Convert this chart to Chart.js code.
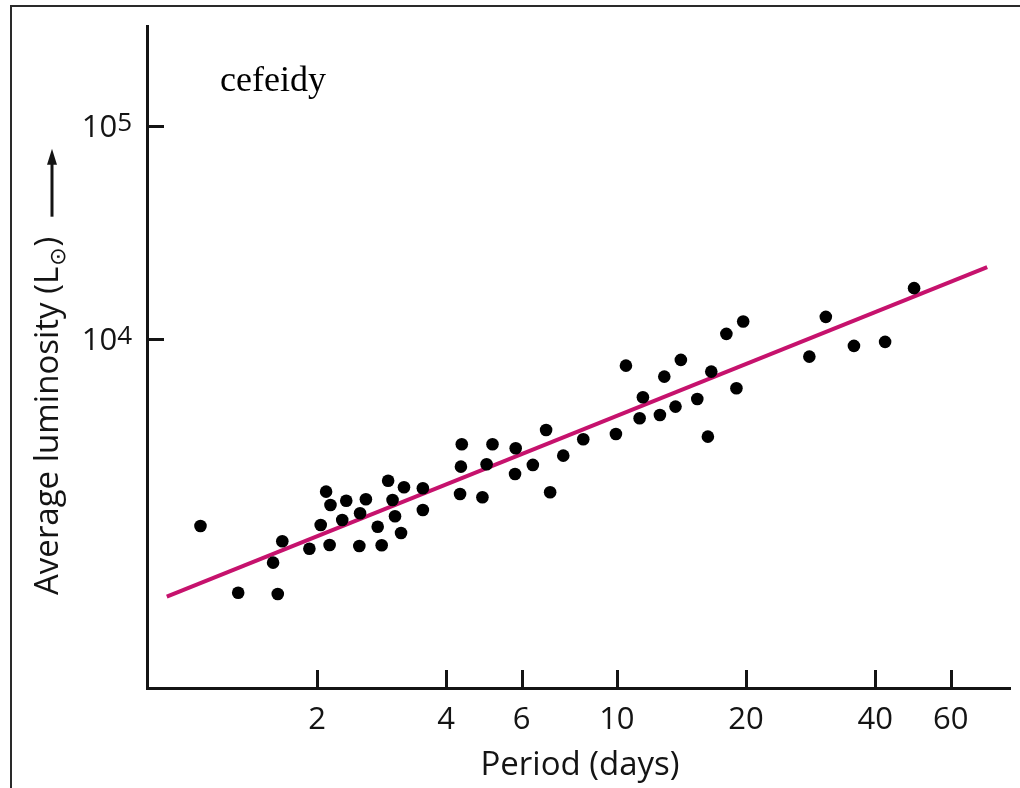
<!DOCTYPE html>
<html>
<head>
<meta charset="utf-8">
<title>cefeidy</title>
<script src="https://cdn.jsdelivr.net/npm/chart.js@4.4.1/dist/chart.umd.min.js"></script>
<style>
    html, body { margin: 0; padding: 0; background: #fff; }
    canvas { display: block; }
</style>
</head>
<body>
<canvas id="cefeidyChart" width="1020" height="788"></canvas>
<script>
// Données : période (jours) et luminosité moyenne (L☉)
const periods = [
    1.07, 1.31, 1.62, 1.58, 1.66, 1.92, 2.04, 2.14, 2.10, 2.15,
    2.29, 2.34, 2.52, 2.51, 2.60, 2.77, 2.83, 2.93, 3.00, 3.04,
    3.14, 3.19, 3.53, 3.53, 4.35, 4.33, 4.31, 5.13, 4.97, 4.86,
    5.81, 5.79, 6.37, 6.84, 6.99, 7.50, 8.35, 9.95, 10.5, 11.3,
    11.5, 12.6, 12.9, 13.7, 14.1, 15.4, 16.3, 16.6, 18.0, 19.0,
    19.7, 28.1, 30.7, 35.7, 42.2, 49.3
];
const luminosities = [
    1325, 644, 635, 891, 1123, 1036, 1339, 1079, 1919, 1662,
    1413, 1741, 1520, 1067, 1768, 1314, 1075, 2161, 1754, 1471,
    1228, 2013, 1991, 1575, 3203, 2515, 1872, 3203, 2580, 1806,
    3068, 2323, 2562, 3739, 1907, 2832, 3381, 3581, 7490, 4243,
    5323, 4397, 6653, 4811, 7969, 5226, 3478, 7022, 10560, 5869,
    12060, 8259, 12690, 9271, 9681, 17300
];

// Droite période-luminosité (extrémités)
const fitPeriods = [0.893, 73.0];
const fitLuminosities = [617, 21700];

// Graduations
const periodTicks = [2, 4, 6, 10, 20, 40, 60];
const luminosityTicks = [1e4, 1e5];
const luminosityTickBase = '10';
const luminosityTickExponents = ['4', '5'];

const chartTitle = 'cefeidy';
const xTitle = 'Period (days)';
const yTitle = 'Average luminosity (L';
const sunSymbol = '\u2299';

const ink = '#141414';
const sansFont = '"Open Sans", "Noto Sans", sans-serif';

// Cadre, graduations intérieures, textes
const decorPlugin = {
    id: 'decor',
    afterDraw(chart) {
        const ctx = chart.ctx;
        const x = chart.scales.x;
        const y = chart.scales.y;
        const area = chart.chartArea;
        ctx.save();

        // cadre de l'image (haut et gauche)
        ctx.strokeStyle = '#2a2a2a';
        ctx.lineWidth = 2;
        ctx.beginPath();
        ctx.moveTo(1020, 6);
        ctx.lineTo(11, 6);
        ctx.lineTo(11, 788);
        ctx.stroke();

        // petites graduations vers l'intérieur
        ctx.strokeStyle = ink;
        ctx.lineWidth = 3;
        periodTicks.forEach(v => {
            const px = Math.round(x.getPixelForValue(v)) + 0.5;
            ctx.beginPath();
            ctx.moveTo(px, area.bottom);
            ctx.lineTo(px, area.bottom - 18);
            ctx.stroke();
        });
        luminosityTicks.forEach((v, i) => {
            const py = Math.round(y.getPixelForValue(v)) + 0.5;
            ctx.beginPath();
            ctx.moveTo(area.left, py);
            ctx.lineTo(area.left + 17, py);
            ctx.stroke();

            // étiquette 10^n
            ctx.fillStyle = ink;
            ctx.textBaseline = 'alphabetic';
            ctx.textAlign = 'right';
            ctx.font = '26px ' + sansFont;
            const expo = luminosityTickExponents[i];
            const ew = ctx.measureText(expo).width;
            ctx.fillText(expo, area.left - 15, py + 4);
            ctx.font = '31px ' + sansFont;
            ctx.fillText(luminosityTickBase, area.left - 15 - ew, py + 10);
        });

        // titre
        ctx.fillStyle = '#000';
        ctx.textAlign = 'left';
        ctx.textBaseline = 'alphabetic';
        ctx.font = '36px "Liberation Serif", "Times New Roman", serif';
        ctx.fillText(chartTitle, 220, 91);

        // titre de l'axe x
        ctx.fillStyle = ink;
        ctx.textAlign = 'center';
        ctx.font = '33px ' + sansFont;
        ctx.fillText(xTitle, 580, 775);

        // titre de l'axe y (tourné)
        ctx.translate(58, 595);
        ctx.rotate(-Math.PI / 2);
        ctx.textAlign = 'left';
        ctx.font = '33px ' + sansFont;
        ctx.fillText(yTitle, 0, 0);
        let w = ctx.measureText(yTitle).width;
        ctx.font = '22px "DejaVu Sans", sans-serif';
        ctx.fillText(sunSymbol, w + 1, 7);
        w += ctx.measureText(sunSymbol).width + 2;
        ctx.font = '33px ' + sansFont;
        ctx.fillText(')', w, 0);
        w += ctx.measureText(')').width;

        // flèche
        const a0 = w + 20;
        ctx.strokeStyle = ink;
        ctx.lineWidth = 3;
        ctx.beginPath();
        ctx.moveTo(a0, -6);
        ctx.lineTo(a0 + 56, -6);
        ctx.stroke();
        ctx.fillStyle = ink;
        ctx.beginPath();
        ctx.moveTo(a0 + 68, -6);
        ctx.lineTo(a0 + 52, -11);
        ctx.lineTo(a0 + 52, -1);
        ctx.closePath();
        ctx.fill();

        ctx.restore();
    }
};

const ctx = document.getElementById('cefeidyChart').getContext('2d');
const cefeidyChart = new Chart(ctx, {
    type: 'scatter',
    data: {
        datasets: [
            {
                label: 'fit',
                type: 'line',
                data: fitPeriods.map((p, i) => ({ x: p, y: fitLuminosities[i] })),
                borderColor: '#c6126d',
                borderWidth: 4,
                pointRadius: 0,
                fill: false,
                order: 2
            },
            {
                label: 'cefeidy',
                data: periods.map((p, i) => ({ x: p, y: luminosities[i] })),
                backgroundColor: '#000',
                borderColor: '#000',
                borderWidth: 0,
                pointRadius: 6.3,
                pointHoverRadius: 6.3,
                order: 1
            }
        ]
    },
    options: {
        responsive: false,
        animation: false,
        events: [],
        layout: { padding: { top: 26, right: 10, left: 0, bottom: 0 } },
        plugins: {
            legend: { display: false },
            tooltip: { enabled: false }
        },
        scales: {
            x: {
                type: 'logarithmic',
                min: 0.803,
                max: 82.5,
                afterBuildTicks: scale => {
                    scale.ticks = periodTicks.map(v => ({ value: v }));
                },
                afterFit: scale => { scale.height = 100; },
                grid: { display: false, drawTicks: false },
                border: { display: true, color: ink, width: 3 },
                ticks: {
                    color: ink,
                    font: { family: sansFont, size: 31 },
                    padding: 14,
                    maxRotation: 0,
                    autoSkip: false,
                    callback: value => String(value)
                }
            },
            y: {
                type: 'logarithmic',
                min: 230,
                max: 294000,
                afterFit: scale => { scale.width = 147; },
                grid: { display: false, drawTicks: false },
                border: { display: true, color: ink, width: 3 },
                ticks: { display: false }
            }
        }
    },
    plugins: [decorPlugin]
});
</script>
</body>
</html>
